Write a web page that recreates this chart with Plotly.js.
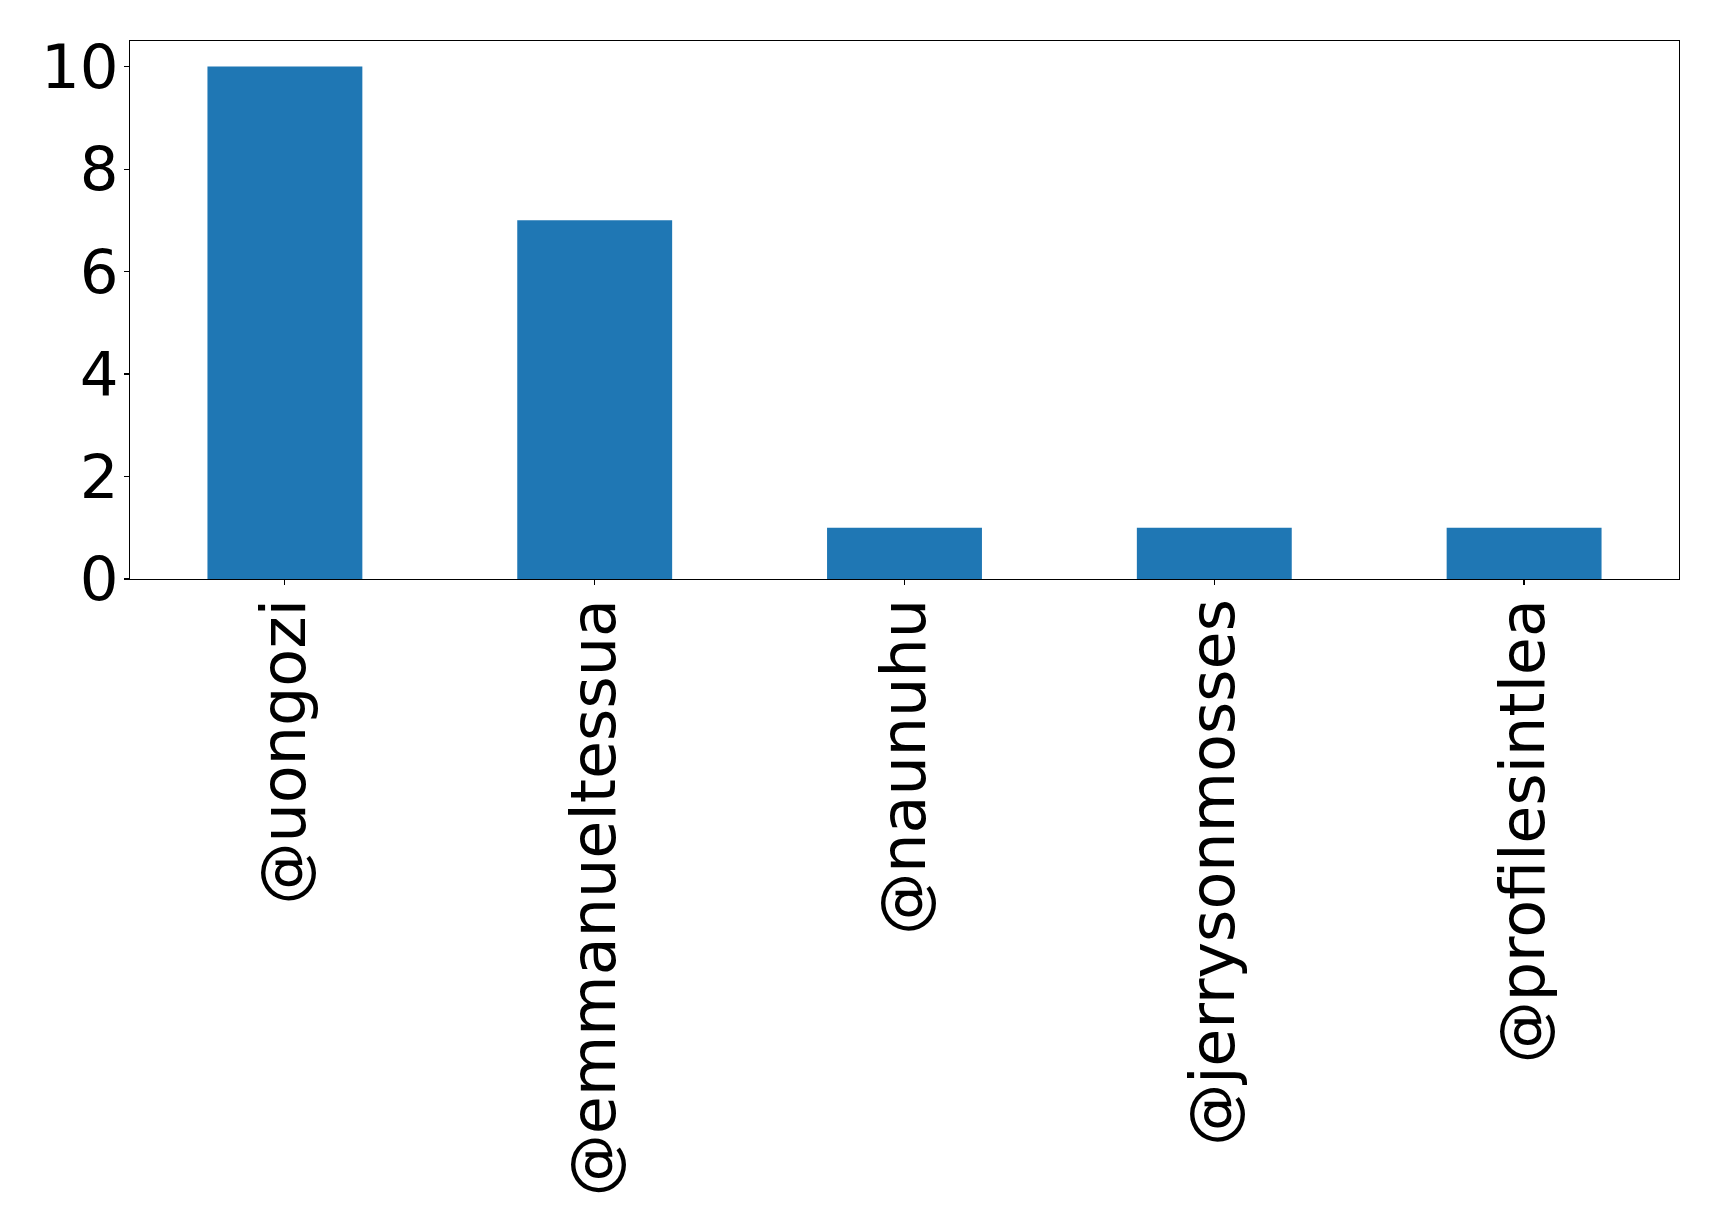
<!DOCTYPE html>
<html>
<head>
<meta charset="utf-8">
<script src="https://cdn.plot.ly/plotly-3.0.1.min.js"></script>
<style>html,body{margin:0;padding:0;background:#fff;}#chart{width:1719px;height:1230px;}</style>
</head>
<body>
<div id="chart"></div>
<script>
const categories = ["@uongozi", "@emmanueltessua", "@naunuhu", "@jerrysonmosses", "@profilesintlea"];
const counts = [10, 7, 1, 1, 1];
const yTicks = [0, 2, 4, 6, 8, 10];

const trace = {
  type: "bar",
  x: categories,
  y: counts,
  marker: {color: "#1f77b4", line: {width: 0}},
  hoverinfo: "x+y"
};

const layout = {
  width: 1719,
  height: 1230,
  margin: {l: 129.5, r: 40, t: 40.5, b: 651, pad: 0},
  paper_bgcolor: "#fff",
  plot_bgcolor: "#fff",
  bargap: 0.5,
  showlegend: false,
  font: {family: "DejaVu Sans", color: "#000"},
  xaxis: {
    type: "category",
    range: [-0.5, 4.5],
    tickangle: -90,
    ticks: "outside",
    ticklen: 5,
    tickwidth: 1.2,
    tickcolor: "#000",
    ticklabelstandoff: -11,
    tickfont: {family: "DejaVu Sans", size: 62, color: "#000"},
    showline: true,
    linecolor: "#000",
    linewidth: 1.2,
    mirror: true,
    showgrid: false,
    zeroline: false,
    automargin: false
  },
  yaxis: {
    range: [0, 10.5],
    tickvals: yTicks,
    ticktext: yTicks.map(String),
    ticks: "outside",
    ticklen: 5,
    tickwidth: 1.2,
    tickcolor: "#000",
    ticklabelstandoff: -7,
    tickfont: {family: "DejaVu Sans", size: 61, color: "#000"},
    showline: true,
    linecolor: "#000",
    linewidth: 1.2,
    mirror: true,
    showgrid: false,
    zeroline: false,
    automargin: false
  }
};

Plotly.newPlot("chart", [trace], layout, {staticPlot: true, displayModeBar: false});
</script>
</body>
</html>
